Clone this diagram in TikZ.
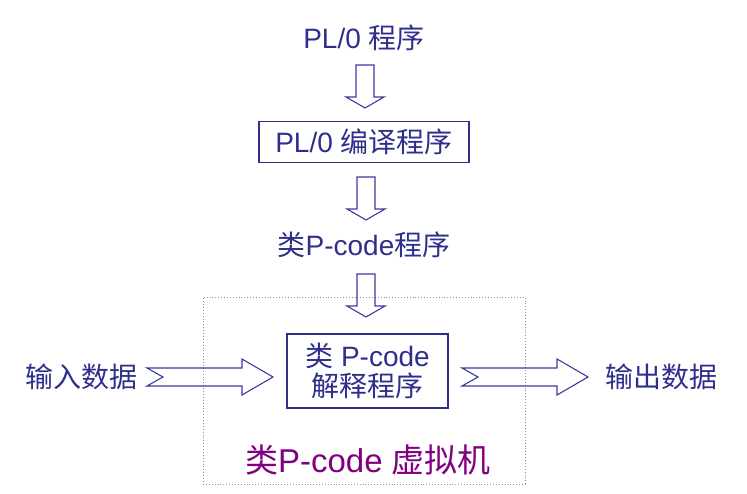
\documentclass[tikz,border=0pt]{standalone}
\usepackage{fontspec}
\setmainfont{Liberation Sans}
\newfontfamily\cjk{Noto Sans CJK SC}
\usetikzlibrary{calc, positioning}
\definecolor{navy}{RGB}{46,46,140}
\definecolor{arrowblue}{RGB}{60,60,160}
\definecolor{vmgrey}{RGB}{140,140,195}
\definecolor{vmpurple}{RGB}{128,0,128}
\tikzset{
  label/.style={text=navy, font=\fontsize{28}{30}\selectfont, inner sep=0pt},
  progbox/.style={label, draw=navy, line width=1.3pt, align=center},
  vmbox/.style={draw=vmgrey, dotted, line width=0.9pt, minimum width=322pt, minimum height=187pt},
  vmlabel/.style={text=vmpurple, font=\fontsize{33}{36}\selectfont, inner sep=0pt},
  hollow/.style={draw=arrowblue, line width=1.1pt, line join=miter}
}
% hollow block arrows between two named points
\newcommand{\hdown}[2]{%
  \draw[hollow] ($(#1)+(-9,0)$) -- ($(#2)+(-9,-11)$) -- ($(#2)+(-19,-11)$) -- (#2)
    -- ($(#2)+(19,-11)$) -- ($(#2)+(9,-11)$) -- ($(#1)+(9,0)$) -- cycle;}
\newcommand{\hright}[2]{%
  \draw[hollow] ($(#1)+(0,-9)$) -- ($(#2)+(-31,-9)$) -- ($(#2)+(-31,-18)$) -- (#2)
    -- ($(#2)+(-31,18)$) -- ($(#2)+(-31,9)$) -- ($(#1)+(0,9)$) -- ($(#1)+(16,0)$) -- cycle;}

\begin{document}
\begin{tikzpicture}[x=1pt, y=-1pt]
    \useasboundingbox (0,0) rectangle (747,494);
    \node[label] (prog) at (364,38) {PL/0 {\cjk 程序}};
    \node[progbox, minimum width=210pt, minimum height=41pt] (comp) at (364,142) {PL/0 {\cjk 编译程序}};
    \node[label] (pcode) at (364,245) {{\cjk 类}P-code{\cjk 程序}};
    \node[vmbox] (vm) at (364,390.5) {};
    \node[progbox, minimum width=161pt, minimum height=74pt] (interp) at (367.5,371)
        {{\cjk 类} P-code\\[0pt]{\cjk 解释程序}};
    \node[vmlabel] (vmname) at (368,460) {{\cjk 类}P-code {\cjk 虚拟机}};
    \node[label] (input) at (81,377) {\cjk 输入数据};
    \node[label] (output) at (661,377) {\cjk 输出数据};
    % arrows
    \coordinate (a1s) at (365,65);  \coordinate (a1e) at (365,108);
    \coordinate (a2s) at (366,177); \coordinate (a2e) at (366,220);
    \coordinate (a3s) at (366,274); \coordinate (a3e) at (366,317);
    \coordinate (inS) at (147,377); \coordinate (inE) at (273,377);
    \coordinate (outS) at (462,377); \coordinate (outE) at (588,377);
    \hdown{a1s}{a1e}
    \hdown{a2s}{a2e}
    \hdown{a3s}{a3e}
    \hright{inS}{inE}
    \hright{outS}{outE}
\end{tikzpicture}
\end{document}
